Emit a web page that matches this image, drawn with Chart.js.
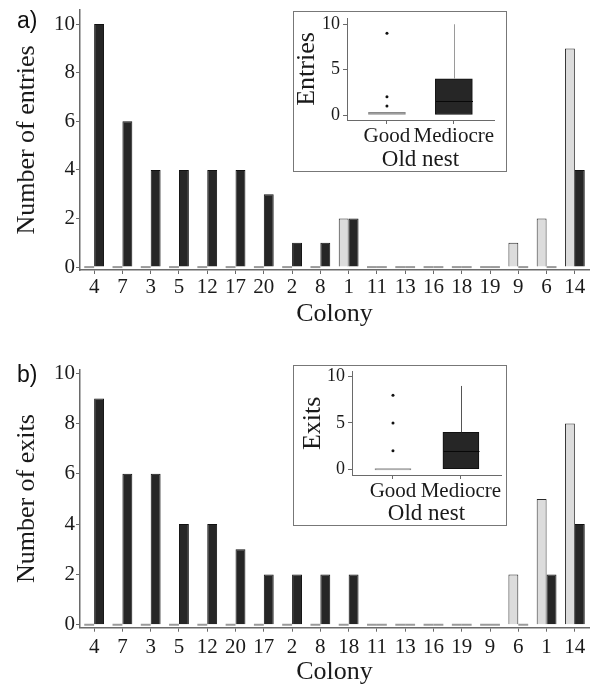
<!DOCTYPE html>
<html>
<head>
<meta charset="utf-8">
<script src="https://cdn.jsdelivr.net/npm/chart.js@4.4.1/dist/chart.umd.min.js"></script>
<style>
  body { margin: 0; background: #fff; }
  #page { position: relative; width: 591px; height: 688px; overflow: hidden; background: #fff; }
  .panel { position: absolute; left: 0; width: 591px; }
  .inset { position: absolute; background: #fff; border: 1px solid #777; }
  .tag { position: absolute; left: 17px; font-family: "Liberation Sans", sans-serif; font-size: 23px; line-height: 23px; color: #111; }
</style>
</head>
<body>
<div id="page">
  <div class="panel" style="top:0;height:330px"><canvas id="entriesChart"></canvas></div>
  <div class="panel" style="top:330px;height:358px"><canvas id="exitsChart"></canvas></div>
  <div class="inset" style="left:293px;top:11px;width:212px;height:159px"><canvas id="entriesBox"></canvas></div>
  <div class="inset" style="left:293px;top:365px;width:212px;height:159px"><canvas id="exitsBox"></canvas></div>
  <div class="tag" style="top:9px">a)</div>
  <div class="tag" style="top:363px">b)</div>
</div>
<script>
// panel a
const coloniesA = ['4', '7', '3', '5', '12', '17', '20', '2', '8', '1', '11', '13', '16', '18', '19', '9', '6', '14'];
const goodEntries = [0, 0, 0, 0, 0, 0, 0, 0, 0, 2, 0, 0, 0, 0, 0, 1, 2, 9];
const mediocreEntries = [10, 6, 4, 4, 4, 4, 3, 1, 1, 2, 0, 0, 0, 0, 0, 0, 0, 4];
// panel b
const coloniesB = ['4', '7', '3', '5', '12', '20', '17', '2', '8', '18', '11', '13', '16', '19', '9', '6', '1', '14'];
const goodExits = [0, 0, 0, 0, 0, 0, 0, 0, 0, 0, 0, 0, 0, 0, 0, 2, 5, 8];
const mediocreExits = [9, 6, 6, 4, 4, 3, 2, 2, 2, 2, 0, 0, 0, 0, 0, 0, 2, 4];
const yTicks = [0, 2, 4, 6, 8, 10];

// insets: Good, Mediocre
const nestTypes = ['Good', 'Mediocre'];
const insetTicks = [0, 5, 10];
const entriesQ1 = [0, 0];
const entriesMedian = [0, 1.5];
const entriesQ3 = [0.3, 4];
const entriesWhiskerHigh = [0.3, 10];
const entriesOutliersGood = [9, 2, 1];
const exitsQ1 = [0, 0];
const exitsMedian = [0, 2];
const exitsQ3 = [0, 4];
const exitsWhiskerHigh = [0, 9];
const exitsOutliersGood = [8, 5, 2];

Chart.defaults.font.family = '"Liberation Serif", "Times New Roman", serif';
Chart.defaults.color = '#1a1a1a';
Chart.defaults.animation = false;

const axisGray = '#6a6a6a';
const zeroGray = '#9a9a9a';

function fixScale(size, horizontal) {
  return function(scale) {
    if (horizontal) scale.height = size; else scale.width = size;
    scale.paddingTop = 0; scale.paddingBottom = 0;
    scale.paddingLeft = 0; scale.paddingRight = 0;
  };
}

function setTicks(values) {
  return function(scale) {
    scale.ticks = values.map(v => ({ value: v }));
  };
}

function barChart(id, labels, good, mediocre, yTitle, opts) {
  new Chart(document.getElementById(id), {
    type: 'bar',
    data: {
      labels: labels,
      datasets: [{
        label: 'Good',
        data: good,
        backgroundColor: ctx => ctx.raw === 0 ? zeroGray : '#dcdcdc',
        borderColor: ctx => ctx.raw === 0 ? zeroGray : '#2a2a2a',
        borderWidth: ctx => ctx.raw === 0 ? 0 : 1
      }, {
        label: 'Mediocre',
        data: mediocre,
        backgroundColor: ctx => ctx.raw === 0 ? zeroGray : '#262626',
        borderColor: ctx => ctx.raw === 0 ? zeroGray : '#111',
        borderWidth: ctx => ctx.raw === 0 ? 0 : 1
      }]
    },
    options: {
      responsive: true,
      maintainAspectRatio: false,
      categoryPercentage: 0.7,
      barPercentage: 1,
      minBarLength: 2,
      layout: { padding: { top: opts.top, right: 2, left: 0, bottom: 0 } },
      plugins: { legend: { display: false }, tooltip: { enabled: false } },
      scales: {
        x: {
          grid: { offset: false, drawOnChartArea: false, tickLength: 4, color: axisGray },
          border: { color: axisGray, width: 1.5 },
          ticks: { font: { size: 21 }, padding: opts.tickPad, autoSkip: false, maxRotation: 0 },
          title: { display: true, text: 'Colony', font: { size: 26 }, padding: { top: 0, bottom: opts.titlePad } },
          afterFit: fixScale(opts.xHeight, true)
        },
        y: {
          min: opts.min,
          max: opts.max,
          afterBuildTicks: setTicks(yTicks),
          grid: { drawOnChartArea: false, tickLength: 4, color: axisGray },
          border: { color: axisGray, width: 1.5 },
          ticks: { font: { size: 21 }, padding: 1 },
          title: { display: true, text: yTitle, font: { size: 26 }, padding: { top: 12, bottom: 0 } },
          afterFit: fixScale(80, false)
        }
      }
    }
  });
}

barChart('entriesChart', coloniesA, goodEntries, mediocreEntries, 'Number of entries',
  { top: 10, min: -0.12, max: 10.58, xHeight: 60, titlePad: 0, tickPad: 1 });
barChart('exitsChart', coloniesB, goodExits, mediocreExits, 'Number of exits',
  { top: 39.5, min: -0.12, max: 10.15, xHeight: 60.3, titlePad: 0, tickPad: 3 });

// whiskers and medians drawn on the inset scales
const boxLines = {
  id: 'boxLines',
  afterDatasetsDraw(chart, args, o) {
    const { ctx, scales: { x, y } } = chart;
    ctx.save();
    ctx.lineWidth = 1;
    o.q3.forEach((q3, i) => {
      const px = Math.round(x.getPixelForValue(i + 1)) + 0.5;
      if (o.whiskerHigh[i] > q3) {
        ctx.strokeStyle = o.whiskerColor;
        ctx.beginPath();
        ctx.moveTo(px, y.getPixelForValue(q3));
        ctx.lineTo(px, y.getPixelForValue(o.whiskerHigh[i]));
        ctx.stroke();
      }
      if (o.median[i] > o.q1[i]) {
        const py = Math.round(y.getPixelForValue(o.median[i])) + 0.5;
        ctx.strokeStyle = '#080808';
        ctx.beginPath();
        ctx.moveTo(px - o.width / 2, py);
        ctx.lineTo(px + o.width / 2, py);
        ctx.stroke();
      }
    });
    ctx.restore();
  }
};

function boxChart(id, q1, median, q3, whiskerHigh, outliers, yTitle, opts) {
  new Chart(document.getElementById(id), {
    type: 'bar',
    data: {
      datasets: [{
        type: 'bar',
        data: nestTypes.map((n, i) => ({ x: i + 1, y: [q1[i], q3[i]] })),
        backgroundColor: ['#9a9a9a', '#262626'],
        borderColor: ['#8a8a8a', '#111'],
        borderWidth: 1,
        borderSkipped: false,
        barThickness: opts.boxWidth,
        minBarLength: 1.5,
        grouped: false
      }, {
        type: 'scatter',
        data: outliers.map(v => ({ x: 1, y: v })),
        pointRadius: 1.5,
        pointBackgroundColor: '#111',
        pointBorderWidth: 0
      }]
    },
    options: {
      responsive: true,
      maintainAspectRatio: false,
      layout: { padding: { top: opts.top, right: opts.right, left: 0, bottom: 0 } },
      plugins: {
        legend: { display: false },
        tooltip: { enabled: false },
        boxLines: { q1: q1, median: median, q3: q3, whiskerHigh: whiskerHigh, width: opts.boxWidth, whiskerColor: opts.whiskerColor }
      },
      scales: {
        x: {
          type: 'linear',
          offset: false,
          min: opts.xMin,
          max: opts.xMax,
          afterBuildTicks: setTicks(nestTypes.map((n, i) => i + 1)),
          grid: { offset: false, drawOnChartArea: false, tickLength: 4, color: axisGray },
          border: { color: axisGray, width: 1 },
          ticks: { font: { size: 21 }, padding: 0, autoSkip: false, maxRotation: 0, callback: v => nestTypes[v - 1] },
          title: { display: true, text: 'Old nest', font: { size: 23 }, padding: { top: 0, bottom: opts.titlePad } },
          afterFit: fixScale(opts.xHeight, true)
        },
        y: {
          min: opts.yMin,
          max: opts.yMax,
          afterBuildTicks: setTicks(insetTicks),
          grid: { drawOnChartArea: false, tickLength: 4, color: axisGray },
          border: { color: axisGray, width: 1 },
          ticks: { font: { size: 18 }, padding: 3 },
          title: { display: true, text: yTitle, font: { size: 26 }, padding: { top: opts.yTitlePad, bottom: 0 } },
          afterFit: fixScale(opts.yWidth, false)
        }
      }
    },
    plugins: [boxLines]
  });
}

boxChart('entriesBox', entriesQ1, entriesMedian, entriesQ3, entriesWhiskerHigh, entriesOutliersGood, 'Entries',
  { top: 6, right: 12, xHeight: 51, yWidth: 53, xMin: 0.403, xMax: 2.6, yMin: -0.55, yMax: 10.69,
    boxWidth: 37, whiskerColor: '#9a9a9a', titlePad: -3, yTitlePad: -2 });
boxChart('exitsBox', exitsQ1, exitsMedian, exitsQ3, exitsWhiskerHigh, exitsOutliersGood, 'Exits',
  { top: 5.7, right: 5, xHeight: 50, yWidth: 58, xMin: 0.397, xMax: 2.59, yMin: -0.62, yMax: 10.54,
    boxWidth: 36, whiskerColor: '#555', titlePad: -3, yTitlePad: 4 });
</script>
</body>
</html>
